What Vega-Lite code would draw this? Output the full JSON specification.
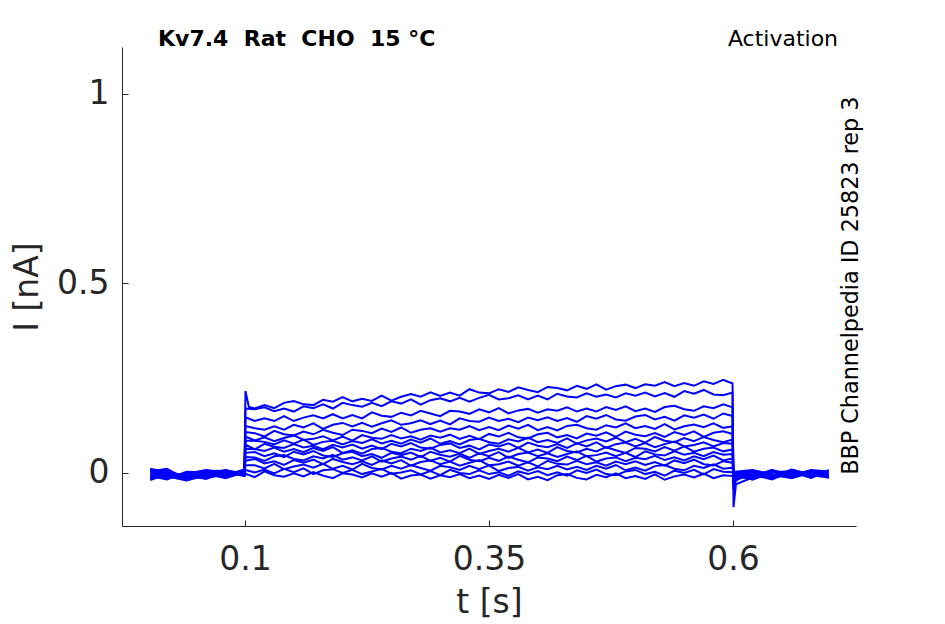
{
  "$schema": "https://vega.github.io/schema/vega-lite/v6.json",
  "width": 734,
  "height": 479,
  "autosize": "none",
  "padding": {"left": 122, "top": 47, "right": 89, "bottom": 98},
  "background": "white",
  "config": {"view": {"stroke": null}, "font": "DejaVu Sans"},
  "layer": [
    {
      "data": {
        "values": [
          {"s":1,"t":0.003,"i":0.008},{"s":1,"t":0.02,"i":-0.006},{"s":1,"t":0.04,"i":-0.015},{"s":1,"t":0.06,"i":0.004},{"s":1,"t":0.08,"i":-0.003},{"s":1,"t":0.0995,"i":0.006},
          {"s":1,"t":0.1005,"i":0.216},{"s":1,"t":0.104,"i":0.174},
          {"s":1,"t":0.11,"i":0.17},{"s":1,"t":0.12,"i":0.179},{"s":1,"t":0.13,"i":0.171},{"s":1,"t":0.14,"i":0.185},{"s":1,"t":0.15,"i":0.19},{"s":1,"t":0.16,"i":0.181},{"s":1,"t":0.17,"i":0.179},{"s":1,"t":0.18,"i":0.193},{"s":1,"t":0.19,"i":0.188},{"s":1,"t":0.2,"i":0.2},{"s":1,"t":0.21,"i":0.189},{"s":1,"t":0.22,"i":0.196},{"s":1,"t":0.23,"i":0.19},{"s":1,"t":0.24,"i":0.204},{"s":1,"t":0.25,"i":0.191},{"s":1,"t":0.26,"i":0.201},{"s":1,"t":0.27,"i":0.208},{"s":1,"t":0.28,"i":0.201},{"s":1,"t":0.29,"i":0.213},{"s":1,"t":0.3,"i":0.203},{"s":1,"t":0.31,"i":0.212},{"s":1,"t":0.32,"i":0.204},{"s":1,"t":0.33,"i":0.221},{"s":1,"t":0.34,"i":0.212},{"s":1,"t":0.35,"i":0.21},{"s":1,"t":0.36,"i":0.221},{"s":1,"t":0.37,"i":0.214},{"s":1,"t":0.38,"i":0.226},{"s":1,"t":0.39,"i":0.219},{"s":1,"t":0.4,"i":0.213},{"s":1,"t":0.41,"i":0.227},{"s":1,"t":0.42,"i":0.224},{"s":1,"t":0.43,"i":0.218},{"s":1,"t":0.44,"i":0.23},{"s":1,"t":0.45,"i":0.222},{"s":1,"t":0.46,"i":0.234},{"s":1,"t":0.47,"i":0.22},{"s":1,"t":0.48,"i":0.229},{"s":1,"t":0.49,"i":0.233},{"s":1,"t":0.5,"i":0.224},{"s":1,"t":0.51,"i":0.234},{"s":1,"t":0.52,"i":0.23},{"s":1,"t":0.53,"i":0.24},{"s":1,"t":0.54,"i":0.229},{"s":1,"t":0.55,"i":0.237},{"s":1,"t":0.56,"i":0.23},{"s":1,"t":0.57,"i":0.242},{"s":1,"t":0.58,"i":0.235},{"s":1,"t":0.59,"i":0.246},{"s":1,"t":0.5995,"i":0.236},
          {"s":1,"t":0.6005,"i":-0.09},{"s":1,"t":0.603,"i":-0.03},{"s":1,"t":0.62,"i":-0.012},{"s":1,"t":0.64,"i":0.004},{"s":1,"t":0.66,"i":-0.008},{"s":1,"t":0.68,"i":0.006},{"s":1,"t":0.698,"i":-0.004},

          {"s":2,"t":0.003,"i":-0.012},{"s":2,"t":0.02,"i":0.005},{"s":2,"t":0.04,"i":-0.009},{"s":2,"t":0.06,"i":-0.004},{"s":2,"t":0.08,"i":0.007},{"s":2,"t":0.0995,"i":-0.002},
          {"s":2,"t":0.1005,"i":0.17},
          {"s":2,"t":0.11,"i":0.168},{"s":2,"t":0.12,"i":0.173},{"s":2,"t":0.13,"i":0.163},{"s":2,"t":0.14,"i":0.17},{"s":2,"t":0.15,"i":0.162},{"s":2,"t":0.16,"i":0.176},{"s":2,"t":0.17,"i":0.171},{"s":2,"t":0.18,"i":0.181},{"s":2,"t":0.19,"i":0.17},{"s":2,"t":0.2,"i":0.185},{"s":2,"t":0.21,"i":0.179},{"s":2,"t":0.22,"i":0.175},{"s":2,"t":0.23,"i":0.185},{"s":2,"t":0.24,"i":0.176},{"s":2,"t":0.25,"i":0.189},{"s":2,"t":0.26,"i":0.183},{"s":2,"t":0.27,"i":0.194},{"s":2,"t":0.28,"i":0.18},{"s":2,"t":0.29,"i":0.192},{"s":2,"t":0.3,"i":0.197},{"s":2,"t":0.31,"i":0.189},{"s":2,"t":0.32,"i":0.198},{"s":2,"t":0.33,"i":0.188},{"s":2,"t":0.34,"i":0.198},{"s":2,"t":0.35,"i":0.206},{"s":2,"t":0.36,"i":0.194},{"s":2,"t":0.37,"i":0.197},{"s":2,"t":0.38,"i":0.205},{"s":2,"t":0.39,"i":0.194},{"s":2,"t":0.4,"i":0.204},{"s":2,"t":0.41,"i":0.194},{"s":2,"t":0.42,"i":0.209},{"s":2,"t":0.43,"i":0.202},{"s":2,"t":0.44,"i":0.199},{"s":2,"t":0.45,"i":0.21},{"s":2,"t":0.46,"i":0.201},{"s":2,"t":0.47,"i":0.207},{"s":2,"t":0.48,"i":0.199},{"s":2,"t":0.49,"i":0.21},{"s":2,"t":0.5,"i":0.204},{"s":2,"t":0.51,"i":0.212},{"s":2,"t":0.52,"i":0.202},{"s":2,"t":0.53,"i":0.211},{"s":2,"t":0.54,"i":0.201},{"s":2,"t":0.55,"i":0.216},{"s":2,"t":0.56,"i":0.209},{"s":2,"t":0.57,"i":0.219},{"s":2,"t":0.58,"i":0.207},{"s":2,"t":0.59,"i":0.205},{"s":2,"t":0.5995,"i":0.212},
          {"s":2,"t":0.6005,"i":-0.045},{"s":2,"t":0.603,"i":-0.02},{"s":2,"t":0.62,"i":0.002},{"s":2,"t":0.64,"i":-0.011},{"s":2,"t":0.66,"i":0.008},{"s":2,"t":0.68,"i":-0.006},{"s":2,"t":0.698,"i":0.003},

          {"s":3,"t":0.003,"i":0.002},{"s":3,"t":0.02,"i":-0.014},{"s":3,"t":0.04,"i":0.001},{"s":3,"t":0.06,"i":-0.011},{"s":3,"t":0.08,"i":-0.006},{"s":3,"t":0.0995,"i":0.009},
          {"s":3,"t":0.1005,"i":0.147},
          {"s":3,"t":0.11,"i":0.137},{"s":3,"t":0.12,"i":0.144},{"s":3,"t":0.13,"i":0.137},{"s":3,"t":0.14,"i":0.15},{"s":3,"t":0.15,"i":0.137},{"s":3,"t":0.16,"i":0.146},{"s":3,"t":0.17,"i":0.152},{"s":3,"t":0.18,"i":0.144},{"s":3,"t":0.19,"i":0.155},{"s":3,"t":0.2,"i":0.144},{"s":3,"t":0.21,"i":0.153},{"s":3,"t":0.22,"i":0.144},{"s":3,"t":0.23,"i":0.16},{"s":3,"t":0.24,"i":0.151},{"s":3,"t":0.25,"i":0.148},{"s":3,"t":0.26,"i":0.159},{"s":3,"t":0.27,"i":0.152},{"s":3,"t":0.28,"i":0.164},{"s":3,"t":0.29,"i":0.157},{"s":3,"t":0.3,"i":0.15},{"s":3,"t":0.31,"i":0.164},{"s":3,"t":0.32,"i":0.162},{"s":3,"t":0.33,"i":0.156},{"s":3,"t":0.34,"i":0.168},{"s":3,"t":0.35,"i":0.16},{"s":3,"t":0.36,"i":0.171},{"s":3,"t":0.37,"i":0.157},{"s":3,"t":0.38,"i":0.165},{"s":3,"t":0.39,"i":0.169},{"s":3,"t":0.4,"i":0.159},{"s":3,"t":0.41,"i":0.168},{"s":3,"t":0.42,"i":0.164},{"s":3,"t":0.43,"i":0.173},{"s":3,"t":0.44,"i":0.162},{"s":3,"t":0.45,"i":0.17},{"s":3,"t":0.46,"i":0.162},{"s":3,"t":0.47,"i":0.174},{"s":3,"t":0.48,"i":0.166},{"s":3,"t":0.49,"i":0.176},{"s":3,"t":0.5,"i":0.163},{"s":3,"t":0.51,"i":0.17},{"s":3,"t":0.52,"i":0.161},{"s":3,"t":0.53,"i":0.174},{"s":3,"t":0.54,"i":0.177},{"s":3,"t":0.55,"i":0.168},{"s":3,"t":0.56,"i":0.164},{"s":3,"t":0.57,"i":0.176},{"s":3,"t":0.58,"i":0.171},{"s":3,"t":0.59,"i":0.181},{"s":3,"t":0.5995,"i":0.173},
          {"s":3,"t":0.6005,"i":-0.035},{"s":3,"t":0.603,"i":-0.015},{"s":3,"t":0.62,"i":-0.006},{"s":3,"t":0.64,"i":0.006},{"s":3,"t":0.66,"i":-0.012},{"s":3,"t":0.68,"i":0.002},{"s":3,"t":0.698,"i":-0.009},

          {"s":4,"t":0.003,"i":-0.016},{"s":4,"t":0.02,"i":0.009},{"s":4,"t":0.04,"i":-0.018},{"s":4,"t":0.06,"i":0.006},{"s":4,"t":0.08,"i":-0.009},{"s":4,"t":0.0995,"i":0.003},
          {"s":4,"t":0.1005,"i":0.124},
          {"s":4,"t":0.11,"i":0.118},{"s":4,"t":0.12,"i":0.114},{"s":4,"t":0.13,"i":0.123},{"s":4,"t":0.14,"i":0.114},{"s":4,"t":0.15,"i":0.127},{"s":4,"t":0.16,"i":0.12},{"s":4,"t":0.17,"i":0.131},{"s":4,"t":0.18,"i":0.116},{"s":4,"t":0.19,"i":0.127},{"s":4,"t":0.2,"i":0.132},{"s":4,"t":0.21,"i":0.123},{"s":4,"t":0.22,"i":0.132},{"s":4,"t":0.23,"i":0.122},{"s":4,"t":0.24,"i":0.131},{"s":4,"t":0.25,"i":0.139},{"s":4,"t":0.26,"i":0.127},{"s":4,"t":0.27,"i":0.131},{"s":4,"t":0.28,"i":0.139},{"s":4,"t":0.29,"i":0.129},{"s":4,"t":0.3,"i":0.138},{"s":4,"t":0.31,"i":0.128},{"s":4,"t":0.32,"i":0.144},{"s":4,"t":0.33,"i":0.137},{"s":4,"t":0.34,"i":0.135},{"s":4,"t":0.35,"i":0.146},{"s":4,"t":0.36,"i":0.137},{"s":4,"t":0.37,"i":0.143},{"s":4,"t":0.38,"i":0.134},{"s":4,"t":0.39,"i":0.146},{"s":4,"t":0.4,"i":0.139},{"s":4,"t":0.41,"i":0.147},{"s":4,"t":0.42,"i":0.137},{"s":4,"t":0.43,"i":0.145},{"s":4,"t":0.44,"i":0.135},{"s":4,"t":0.45,"i":0.15},{"s":4,"t":0.46,"i":0.143},{"s":4,"t":0.47,"i":0.153},{"s":4,"t":0.48,"i":0.141},{"s":4,"t":0.49,"i":0.138},{"s":4,"t":0.5,"i":0.149},{"s":4,"t":0.51,"i":0.153},{"s":4,"t":0.52,"i":0.141},{"s":4,"t":0.53,"i":0.148},{"s":4,"t":0.54,"i":0.138},{"s":4,"t":0.55,"i":0.152},{"s":4,"t":0.56,"i":0.146},{"s":4,"t":0.57,"i":0.154},{"s":4,"t":0.58,"i":0.143},{"s":4,"t":0.59,"i":0.157},{"s":4,"t":0.5995,"i":0.15},
          {"s":4,"t":0.6005,"i":-0.03},{"s":4,"t":0.603,"i":-0.012},{"s":4,"t":0.62,"i":0.005},{"s":4,"t":0.64,"i":-0.009},{"s":4,"t":0.66,"i":0.003},{"s":4,"t":0.68,"i":-0.013},{"s":4,"t":0.698,"i":0.005},

          {"s":5,"t":0.003,"i":0.006},{"s":5,"t":0.02,"i":-0.002},{"s":5,"t":0.04,"i":-0.011},{"s":5,"t":0.06,"i":-0.013},{"s":5,"t":0.08,"i":0.004},{"s":5,"t":0.0995,"i":-0.005},
          {"s":5,"t":0.1005,"i":0.108},
          {"s":5,"t":0.11,"i":0.105},{"s":5,"t":0.12,"i":0.096},{"s":5,"t":0.13,"i":0.111},{"s":5,"t":0.14,"i":0.102},{"s":5,"t":0.15,"i":0.099},{"s":5,"t":0.16,"i":0.109},{"s":5,"t":0.17,"i":0.102},{"s":5,"t":0.18,"i":0.114},{"s":5,"t":0.19,"i":0.106},{"s":5,"t":0.2,"i":0.1},{"s":5,"t":0.21,"i":0.114},{"s":5,"t":0.22,"i":0.111},{"s":5,"t":0.23,"i":0.105},{"s":5,"t":0.24,"i":0.117},{"s":5,"t":0.25,"i":0.108},{"s":5,"t":0.26,"i":0.12},{"s":5,"t":0.27,"i":0.106},{"s":5,"t":0.28,"i":0.114},{"s":5,"t":0.29,"i":0.118},{"s":5,"t":0.3,"i":0.109},{"s":5,"t":0.31,"i":0.118},{"s":5,"t":0.32,"i":0.114},{"s":5,"t":0.33,"i":0.124},{"s":5,"t":0.34,"i":0.113},{"s":5,"t":0.35,"i":0.121},{"s":5,"t":0.36,"i":0.113},{"s":5,"t":0.37,"i":0.125},{"s":5,"t":0.38,"i":0.117},{"s":5,"t":0.39,"i":0.127},{"s":5,"t":0.4,"i":0.113},{"s":5,"t":0.41,"i":0.121},{"s":5,"t":0.42,"i":0.112},{"s":5,"t":0.43,"i":0.124},{"s":5,"t":0.44,"i":0.127},{"s":5,"t":0.45,"i":0.118},{"s":5,"t":0.46,"i":0.114},{"s":5,"t":0.47,"i":0.126},{"s":5,"t":0.48,"i":0.12},{"s":5,"t":0.49,"i":0.131},{"s":5,"t":0.5,"i":0.118},{"s":5,"t":0.51,"i":0.124},{"s":5,"t":0.52,"i":0.116},{"s":5,"t":0.53,"i":0.129},{"s":5,"t":0.54,"i":0.115},{"s":5,"t":0.55,"i":0.123},{"s":5,"t":0.56,"i":0.128},{"s":5,"t":0.57,"i":0.121},{"s":5,"t":0.58,"i":0.131},{"s":5,"t":0.59,"i":0.119},{"s":5,"t":0.5995,"i":0.123},
          {"s":5,"t":0.6005,"i":-0.028},{"s":5,"t":0.603,"i":-0.01},{"s":5,"t":0.62,"i":-0.014},{"s":5,"t":0.64,"i":0.002},{"s":5,"t":0.66,"i":-0.005},{"s":5,"t":0.68,"i":0.007},{"s":5,"t":0.698,"i":-0.011},

          {"s":6,"t":0.003,"i":-0.008},{"s":6,"t":0.02,"i":-0.017},{"s":6,"t":0.04,"i":0.003},{"s":6,"t":0.06,"i":0.001},{"s":6,"t":0.08,"i":-0.012},{"s":6,"t":0.0995,"i":0.008},
          {"s":6,"t":0.1005,"i":0.096},
          {"s":6,"t":0.11,"i":0.086},{"s":6,"t":0.12,"i":0.094},{"s":6,"t":0.13,"i":0.084},{"s":6,"t":0.14,"i":0.092},{"s":6,"t":0.15,"i":0.099},{"s":6,"t":0.16,"i":0.087},{"s":6,"t":0.17,"i":0.09},{"s":6,"t":0.18,"i":0.097},{"s":6,"t":0.19,"i":0.086},{"s":6,"t":0.2,"i":0.096},{"s":6,"t":0.21,"i":0.085},{"s":6,"t":0.22,"i":0.1},{"s":6,"t":0.23,"i":0.093},{"s":6,"t":0.24,"i":0.09},{"s":6,"t":0.25,"i":0.1},{"s":6,"t":0.26,"i":0.091},{"s":6,"t":0.27,"i":0.097},{"s":6,"t":0.28,"i":0.088},{"s":6,"t":0.29,"i":0.099},{"s":6,"t":0.3,"i":0.093},{"s":6,"t":0.31,"i":0.101},{"s":6,"t":0.32,"i":0.09},{"s":6,"t":0.33,"i":0.098},{"s":6,"t":0.34,"i":0.089},{"s":6,"t":0.35,"i":0.103},{"s":6,"t":0.36,"i":0.096},{"s":6,"t":0.37,"i":0.106},{"s":6,"t":0.38,"i":0.094},{"s":6,"t":0.39,"i":0.091},{"s":6,"t":0.4,"i":0.102},{"s":6,"t":0.41,"i":0.106},{"s":6,"t":0.42,"i":0.094},{"s":6,"t":0.43,"i":0.1},{"s":6,"t":0.44,"i":0.091},{"s":6,"t":0.45,"i":0.104},{"s":6,"t":0.46,"i":0.098},{"s":6,"t":0.47,"i":0.107},{"s":6,"t":0.48,"i":0.095},{"s":6,"t":0.49,"i":0.109},{"s":6,"t":0.5,"i":0.101},{"s":6,"t":0.51,"i":0.097},{"s":6,"t":0.52,"i":0.105},{"s":6,"t":0.53,"i":0.095},{"s":6,"t":0.54,"i":0.108},{"s":6,"t":0.55,"i":0.1},{"s":6,"t":0.56,"i":0.11},{"s":6,"t":0.57,"i":0.095},{"s":6,"t":0.58,"i":0.106},{"s":6,"t":0.59,"i":0.11},{"s":6,"t":0.5995,"i":0.103},
          {"s":6,"t":0.6005,"i":-0.025},{"s":6,"t":0.603,"i":-0.008},{"s":6,"t":0.62,"i":0.003},{"s":6,"t":0.64,"i":-0.015},{"s":6,"t":0.66,"i":0.006},{"s":6,"t":0.68,"i":-0.008},{"s":6,"t":0.698,"i":0.001},

          {"s":7,"t":0.003,"i":0.01},{"s":7,"t":0.02,"i":-0.009},{"s":7,"t":0.04,"i":-0.02},{"s":7,"t":0.06,"i":-0.006},{"s":7,"t":0.08,"i":0.008},{"s":7,"t":0.0995,"i":-0.004},
          {"s":7,"t":0.1005,"i":0.085},
          {"s":7,"t":0.11,"i":0.085},{"s":7,"t":0.12,"i":0.082},{"s":7,"t":0.13,"i":0.075},{"s":7,"t":0.14,"i":0.086},{"s":7,"t":0.15,"i":0.077},{"s":7,"t":0.16,"i":0.088},{"s":7,"t":0.17,"i":0.074},{"s":7,"t":0.18,"i":0.082},{"s":7,"t":0.19,"i":0.085},{"s":7,"t":0.2,"i":0.075},{"s":7,"t":0.21,"i":0.084},{"s":7,"t":0.22,"i":0.079},{"s":7,"t":0.23,"i":0.089},{"s":7,"t":0.24,"i":0.078},{"s":7,"t":0.25,"i":0.085},{"s":7,"t":0.26,"i":0.077},{"s":7,"t":0.27,"i":0.088},{"s":7,"t":0.28,"i":0.08},{"s":7,"t":0.29,"i":0.091},{"s":7,"t":0.3,"i":0.077},{"s":7,"t":0.31,"i":0.084},{"s":7,"t":0.32,"i":0.075},{"s":7,"t":0.33,"i":0.087},{"s":7,"t":0.34,"i":0.09},{"s":7,"t":0.35,"i":0.081},{"s":7,"t":0.36,"i":0.077},{"s":7,"t":0.37,"i":0.089},{"s":7,"t":0.38,"i":0.083},{"s":7,"t":0.39,"i":0.093},{"s":7,"t":0.4,"i":0.081},{"s":7,"t":0.41,"i":0.087},{"s":7,"t":0.42,"i":0.079},{"s":7,"t":0.43,"i":0.091},{"s":7,"t":0.44,"i":0.077},{"s":7,"t":0.45,"i":0.086},{"s":7,"t":0.46,"i":0.091},{"s":7,"t":0.47,"i":0.083},{"s":7,"t":0.48,"i":0.093},{"s":7,"t":0.49,"i":0.081},{"s":7,"t":0.5,"i":0.09},{"s":7,"t":0.51,"i":0.08},{"s":7,"t":0.52,"i":0.095},{"s":7,"t":0.53,"i":0.085},{"s":7,"t":0.54,"i":0.081},{"s":7,"t":0.55,"i":0.092},{"s":7,"t":0.56,"i":0.084},{"s":7,"t":0.57,"i":0.095},{"s":7,"t":0.58,"i":0.087},{"s":7,"t":0.59,"i":0.081},{"s":7,"t":0.5995,"i":0.088},
          {"s":7,"t":0.6005,"i":-0.022},{"s":7,"t":0.603,"i":-0.006},{"s":7,"t":0.62,"i":-0.009},{"s":7,"t":0.64,"i":0.008},{"s":7,"t":0.66,"i":-0.013},{"s":7,"t":0.68,"i":0.004},{"s":7,"t":0.698,"i":-0.006},

          {"s":8,"t":0.003,"i":-0.004},{"s":8,"t":0.02,"i":0.007},{"s":8,"t":0.04,"i":-0.013},{"s":8,"t":0.06,"i":0.007},{"s":8,"t":0.08,"i":-0.002},{"s":8,"t":0.0995,"i":0.005},
          {"s":8,"t":0.1005,"i":0.075},
          {"s":8,"t":0.11,"i":0.062},{"s":8,"t":0.12,"i":0.077},{"s":8,"t":0.13,"i":0.069},{"s":8,"t":0.14,"i":0.066},{"s":8,"t":0.15,"i":0.076},{"s":8,"t":0.16,"i":0.067},{"s":8,"t":0.17,"i":0.072},{"s":8,"t":0.18,"i":0.063},{"s":8,"t":0.19,"i":0.074},{"s":8,"t":0.2,"i":0.067},{"s":8,"t":0.21,"i":0.075},{"s":8,"t":0.22,"i":0.064},{"s":8,"t":0.23,"i":0.072},{"s":8,"t":0.24,"i":0.063},{"s":8,"t":0.25,"i":0.077},{"s":8,"t":0.26,"i":0.07},{"s":8,"t":0.27,"i":0.079},{"s":8,"t":0.28,"i":0.067},{"s":8,"t":0.29,"i":0.064},{"s":8,"t":0.3,"i":0.074},{"s":8,"t":0.31,"i":0.078},{"s":8,"t":0.32,"i":0.066},{"s":8,"t":0.33,"i":0.072},{"s":8,"t":0.34,"i":0.062},{"s":8,"t":0.35,"i":0.075},{"s":8,"t":0.36,"i":0.07},{"s":8,"t":0.37,"i":0.078},{"s":8,"t":0.38,"i":0.066},{"s":8,"t":0.39,"i":0.08},{"s":8,"t":0.4,"i":0.072},{"s":8,"t":0.41,"i":0.068},{"s":8,"t":0.42,"i":0.076},{"s":8,"t":0.43,"i":0.066},{"s":8,"t":0.44,"i":0.078},{"s":8,"t":0.45,"i":0.07},{"s":8,"t":0.46,"i":0.081},{"s":8,"t":0.47,"i":0.066},{"s":8,"t":0.48,"i":0.076},{"s":8,"t":0.49,"i":0.08},{"s":8,"t":0.5,"i":0.07},{"s":8,"t":0.51,"i":0.079},{"s":8,"t":0.52,"i":0.068},{"s":8,"t":0.53,"i":0.076},{"s":8,"t":0.54,"i":0.083},{"s":8,"t":0.55,"i":0.07},{"s":8,"t":0.56,"i":0.074},{"s":8,"t":0.57,"i":0.081},{"s":8,"t":0.58,"i":0.07},{"s":8,"t":0.59,"i":0.079},{"s":8,"t":0.5995,"i":0.077},
          {"s":8,"t":0.6005,"i":-0.02},{"s":8,"t":0.603,"i":-0.004},{"s":8,"t":0.62,"i":0.006},{"s":8,"t":0.64,"i":-0.006},{"s":8,"t":0.66,"i":0.001},{"s":8,"t":0.68,"i":-0.011},{"s":8,"t":0.698,"i":0.007},

          {"s":9,"t":0.003,"i":-0.019},{"s":9,"t":0.02,"i":-0.003},{"s":9,"t":0.04,"i":-0.006},{"s":9,"t":0.06,"i":-0.016},{"s":9,"t":0.08,"i":0.002},{"s":9,"t":0.0995,"i":-0.008},
          {"s":9,"t":0.1005,"i":0.064},
          {"s":9,"t":0.11,"i":0.063},{"s":9,"t":0.12,"i":0.058},{"s":9,"t":0.13,"i":0.067},{"s":9,"t":0.14,"i":0.056},{"s":9,"t":0.15,"i":0.063},{"s":9,"t":0.16,"i":0.055},{"s":9,"t":0.17,"i":0.066},{"s":9,"t":0.18,"i":0.058},{"s":9,"t":0.19,"i":0.068},{"s":9,"t":0.2,"i":0.053},{"s":9,"t":0.21,"i":0.06},{"s":9,"t":0.22,"i":0.051},{"s":9,"t":0.23,"i":0.063},{"s":9,"t":0.24,"i":0.066},{"s":9,"t":0.25,"i":0.056},{"s":9,"t":0.26,"i":0.052},{"s":9,"t":0.27,"i":0.064},{"s":9,"t":0.28,"i":0.058},{"s":9,"t":0.29,"i":0.067},{"s":9,"t":0.3,"i":0.054},{"s":9,"t":0.31,"i":0.06},{"s":9,"t":0.32,"i":0.052},{"s":9,"t":0.33,"i":0.064},{"s":9,"t":0.34,"i":0.05},{"s":9,"t":0.35,"i":0.058},{"s":9,"t":0.36,"i":0.064},{"s":9,"t":0.37,"i":0.056},{"s":9,"t":0.38,"i":0.066},{"s":9,"t":0.39,"i":0.054},{"s":9,"t":0.4,"i":0.062},{"s":9,"t":0.41,"i":0.053},{"s":9,"t":0.42,"i":0.068},{"s":9,"t":0.43,"i":0.058},{"s":9,"t":0.44,"i":0.054},{"s":9,"t":0.45,"i":0.064},{"s":9,"t":0.46,"i":0.057},{"s":9,"t":0.47,"i":0.068},{"s":9,"t":0.48,"i":0.06},{"s":9,"t":0.49,"i":0.053},{"s":9,"t":0.5,"i":0.066},{"s":9,"t":0.51,"i":0.064},{"s":9,"t":0.52,"i":0.057},{"s":9,"t":0.53,"i":0.068},{"s":9,"t":0.54,"i":0.059},{"s":9,"t":0.55,"i":0.07},{"s":9,"t":0.56,"i":0.056},{"s":9,"t":0.57,"i":0.064},{"s":9,"t":0.58,"i":0.067},{"s":9,"t":0.59,"i":0.057},{"s":9,"t":0.5995,"i":0.062},
          {"s":9,"t":0.6005,"i":-0.018},{"s":9,"t":0.603,"i":-0.01},{"s":9,"t":0.62,"i":-0.016},{"s":9,"t":0.64,"i":0.004},{"s":9,"t":0.66,"i":-0.007},{"s":9,"t":0.68,"i":0.005},{"s":9,"t":0.698,"i":-0.013},

          {"s":10,"t":0.003,"i":0.004},{"s":10,"t":0.02,"i":0.011},{"s":10,"t":0.04,"i":-0.017},{"s":10,"t":0.06,"i":-0.001},{"s":10,"t":0.08,"i":-0.014},{"s":10,"t":0.0995,"i":0.002},
          {"s":10,"t":0.1005,"i":0.053},
          {"s":10,"t":0.11,"i":0.055},{"s":10,"t":0.12,"i":0.044},{"s":10,"t":0.13,"i":0.052},{"s":10,"t":0.14,"i":0.042},{"s":10,"t":0.15,"i":0.056},{"s":10,"t":0.16,"i":0.049},{"s":10,"t":0.17,"i":0.058},{"s":10,"t":0.18,"i":0.046},{"s":10,"t":0.19,"i":0.042},{"s":10,"t":0.2,"i":0.052},{"s":10,"t":0.21,"i":0.056},{"s":10,"t":0.22,"i":0.044},{"s":10,"t":0.23,"i":0.05},{"s":10,"t":0.24,"i":0.04},{"s":10,"t":0.25,"i":0.053},{"s":10,"t":0.26,"i":0.047},{"s":10,"t":0.27,"i":0.054},{"s":10,"t":0.28,"i":0.042},{"s":10,"t":0.29,"i":0.056},{"s":10,"t":0.3,"i":0.048},{"s":10,"t":0.31,"i":0.043},{"s":10,"t":0.32,"i":0.051},{"s":10,"t":0.33,"i":0.04},{"s":10,"t":0.34,"i":0.052},{"s":10,"t":0.35,"i":0.044},{"s":10,"t":0.36,"i":0.055},{"s":10,"t":0.37,"i":0.04},{"s":10,"t":0.38,"i":0.05},{"s":10,"t":0.39,"i":0.054},{"s":10,"t":0.4,"i":0.044},{"s":10,"t":0.41,"i":0.052},{"s":10,"t":0.42,"i":0.042},{"s":10,"t":0.43,"i":0.05},{"s":10,"t":0.44,"i":0.057},{"s":10,"t":0.45,"i":0.044},{"s":10,"t":0.46,"i":0.047},{"s":10,"t":0.47,"i":0.054},{"s":10,"t":0.48,"i":0.044},{"s":10,"t":0.49,"i":0.053},{"s":10,"t":0.5,"i":0.042},{"s":10,"t":0.51,"i":0.057},{"s":10,"t":0.52,"i":0.049},{"s":10,"t":0.53,"i":0.046},{"s":10,"t":0.54,"i":0.057},{"s":10,"t":0.55,"i":0.048},{"s":10,"t":0.56,"i":0.053},{"s":10,"t":0.57,"i":0.044},{"s":10,"t":0.58,"i":0.055},{"s":10,"t":0.59,"i":0.048},{"s":10,"t":0.5995,"i":0.05},
          {"s":10,"t":0.6005,"i":-0.015},{"s":10,"t":0.603,"i":-0.002},{"s":10,"t":0.62,"i":0.001},{"s":10,"t":0.64,"i":-0.012},{"s":10,"t":0.66,"i":0.009},{"s":10,"t":0.68,"i":-0.004},{"s":10,"t":0.698,"i":0.002},

          {"s":11,"t":0.003,"i":-0.01},{"s":11,"t":0.02,"i":-0.012},{"s":11,"t":0.04,"i":0.0},{"s":11,"t":0.06,"i":0.005},{"s":11,"t":0.08,"i":0.006},{"s":11,"t":0.0995,"i":-0.006},
          {"s":11,"t":0.1005,"i":0.042},
          {"s":11,"t":0.11,"i":0.041},{"s":11,"t":0.12,"i":0.032},{"s":11,"t":0.13,"i":0.044},{"s":11,"t":0.14,"i":0.047},{"s":11,"t":0.15,"i":0.037},{"s":11,"t":0.16,"i":0.033},{"s":11,"t":0.17,"i":0.044},{"s":11,"t":0.18,"i":0.038},{"s":11,"t":0.19,"i":0.048},{"s":11,"t":0.2,"i":0.035},{"s":11,"t":0.21,"i":0.041},{"s":11,"t":0.22,"i":0.033},{"s":11,"t":0.23,"i":0.044},{"s":11,"t":0.24,"i":0.03},{"s":11,"t":0.25,"i":0.038},{"s":11,"t":0.26,"i":0.043},{"s":11,"t":0.27,"i":0.035},{"s":11,"t":0.28,"i":0.045},{"s":11,"t":0.29,"i":0.032},{"s":11,"t":0.3,"i":0.04},{"s":11,"t":0.31,"i":0.03},{"s":11,"t":0.32,"i":0.045},{"s":11,"t":0.33,"i":0.035},{"s":11,"t":0.34,"i":0.031},{"s":11,"t":0.35,"i":0.04},{"s":11,"t":0.36,"i":0.032},{"s":11,"t":0.37,"i":0.043},{"s":11,"t":0.38,"i":0.035},{"s":11,"t":0.39,"i":0.028},{"s":11,"t":0.4,"i":0.041},{"s":11,"t":0.41,"i":0.038},{"s":11,"t":0.42,"i":0.031},{"s":11,"t":0.43,"i":0.043},{"s":11,"t":0.44,"i":0.034},{"s":11,"t":0.45,"i":0.045},{"s":11,"t":0.46,"i":0.03},{"s":11,"t":0.47,"i":0.038},{"s":11,"t":0.48,"i":0.041},{"s":11,"t":0.49,"i":0.031},{"s":11,"t":0.5,"i":0.04},{"s":11,"t":0.51,"i":0.036},{"s":11,"t":0.52,"i":0.045},{"s":11,"t":0.53,"i":0.034},{"s":11,"t":0.54,"i":0.041},{"s":11,"t":0.55,"i":0.033},{"s":11,"t":0.56,"i":0.044},{"s":11,"t":0.57,"i":0.036},{"s":11,"t":0.58,"i":0.046},{"s":11,"t":0.59,"i":0.033},{"s":11,"t":0.5995,"i":0.038},
          {"s":11,"t":0.6005,"i":-0.012},{"s":11,"t":0.603,"i":-0.007},{"s":11,"t":0.62,"i":-0.011},{"s":11,"t":0.64,"i":0.007},{"s":11,"t":0.66,"i":-0.003},{"s":11,"t":0.68,"i":0.003},{"s":11,"t":0.698,"i":-0.008},

          {"s":12,"t":0.003,"i":0.011},{"s":12,"t":0.02,"i":0.002},{"s":12,"t":0.04,"i":-0.014},{"s":12,"t":0.06,"i":-0.009},{"s":12,"t":0.08,"i":-0.007},{"s":12,"t":0.0995,"i":0.007},
          {"s":12,"t":0.1005,"i":0.032},
          {"s":12,"t":0.11,"i":0.037},{"s":12,"t":0.12,"i":0.025},{"s":12,"t":0.13,"i":0.031},{"s":12,"t":0.14,"i":0.021},{"s":12,"t":0.15,"i":0.034},{"s":12,"t":0.16,"i":0.027},{"s":12,"t":0.17,"i":0.035},{"s":12,"t":0.18,"i":0.023},{"s":12,"t":0.19,"i":0.037},{"s":12,"t":0.2,"i":0.029},{"s":12,"t":0.21,"i":0.023},{"s":12,"t":0.22,"i":0.031},{"s":12,"t":0.23,"i":0.021},{"s":12,"t":0.24,"i":0.033},{"s":12,"t":0.25,"i":0.025},{"s":12,"t":0.26,"i":0.034},{"s":12,"t":0.27,"i":0.019},{"s":12,"t":0.28,"i":0.029},{"s":12,"t":0.29,"i":0.033},{"s":12,"t":0.3,"i":0.023},{"s":12,"t":0.31,"i":0.03},{"s":12,"t":0.32,"i":0.019},{"s":12,"t":0.33,"i":0.027},{"s":12,"t":0.34,"i":0.034},{"s":12,"t":0.35,"i":0.02},{"s":12,"t":0.36,"i":0.023},{"s":12,"t":0.37,"i":0.03},{"s":12,"t":0.38,"i":0.019},{"s":12,"t":0.39,"i":0.028},{"s":12,"t":0.4,"i":0.017},{"s":12,"t":0.41,"i":0.032},{"s":12,"t":0.42,"i":0.024},{"s":12,"t":0.43,"i":0.022},{"s":12,"t":0.44,"i":0.032},{"s":12,"t":0.45,"i":0.023},{"s":12,"t":0.46,"i":0.028},{"s":12,"t":0.47,"i":0.019},{"s":12,"t":0.48,"i":0.03},{"s":12,"t":0.49,"i":0.023},{"s":12,"t":0.5,"i":0.031},{"s":12,"t":0.51,"i":0.021},{"s":12,"t":0.52,"i":0.029},{"s":12,"t":0.53,"i":0.019},{"s":12,"t":0.54,"i":0.033},{"s":12,"t":0.55,"i":0.026},{"s":12,"t":0.56,"i":0.035},{"s":12,"t":0.57,"i":0.023},{"s":12,"t":0.58,"i":0.02},{"s":12,"t":0.59,"i":0.031},{"s":12,"t":0.5995,"i":0.027},
          {"s":12,"t":0.6005,"i":-0.01},{"s":12,"t":0.603,"i":0.0},{"s":12,"t":0.62,"i":0.004},{"s":12,"t":0.64,"i":-0.008},{"s":12,"t":0.66,"i":-0.01},{"s":12,"t":0.68,"i":0.008},{"s":12,"t":0.698,"i":0.004},

          {"s":13,"t":0.003,"i":-0.006},{"s":13,"t":0.02,"i":-0.015},{"s":13,"t":0.04,"i":-0.003},{"s":13,"t":0.06,"i":0.008},{"s":13,"t":0.08,"i":0.001},{"s":13,"t":0.0995,"i":-0.001},
          {"s":13,"t":0.1005,"i":0.02},
          {"s":13,"t":0.11,"i":0.02},{"s":13,"t":0.12,"i":0.012},{"s":13,"t":0.13,"i":0.024},{"s":13,"t":0.14,"i":0.01},{"s":13,"t":0.15,"i":0.017},{"s":13,"t":0.16,"i":0.022},{"s":13,"t":0.17,"i":0.014},{"s":13,"t":0.18,"i":0.024},{"s":13,"t":0.19,"i":0.011},{"s":13,"t":0.2,"i":0.019},{"s":13,"t":0.21,"i":0.009},{"s":13,"t":0.22,"i":0.024},{"s":13,"t":0.23,"i":0.013},{"s":13,"t":0.24,"i":0.009},{"s":13,"t":0.25,"i":0.019},{"s":13,"t":0.26,"i":0.011},{"s":13,"t":0.27,"i":0.021},{"s":13,"t":0.28,"i":0.013},{"s":13,"t":0.29,"i":0.006},{"s":13,"t":0.3,"i":0.019},{"s":13,"t":0.31,"i":0.015},{"s":13,"t":0.32,"i":0.008},{"s":13,"t":0.33,"i":0.019},{"s":13,"t":0.34,"i":0.01},{"s":13,"t":0.35,"i":0.02},{"s":13,"t":0.36,"i":0.005},{"s":13,"t":0.37,"i":0.013},{"s":13,"t":0.38,"i":0.016},{"s":13,"t":0.39,"i":0.006},{"s":13,"t":0.4,"i":0.015},{"s":13,"t":0.41,"i":0.01},{"s":13,"t":0.42,"i":0.019},{"s":13,"t":0.43,"i":0.009},{"s":13,"t":0.44,"i":0.016},{"s":13,"t":0.45,"i":0.008},{"s":13,"t":0.46,"i":0.019},{"s":13,"t":0.47,"i":0.011},{"s":13,"t":0.48,"i":0.021},{"s":13,"t":0.49,"i":0.007},{"s":13,"t":0.5,"i":0.014},{"s":13,"t":0.51,"i":0.006},{"s":13,"t":0.52,"i":0.018},{"s":13,"t":0.53,"i":0.021},{"s":13,"t":0.54,"i":0.011},{"s":13,"t":0.55,"i":0.007},{"s":13,"t":0.56,"i":0.019},{"s":13,"t":0.57,"i":0.013},{"s":13,"t":0.58,"i":0.023},{"s":13,"t":0.59,"i":0.011},{"s":13,"t":0.5995,"i":0.014},
          {"s":13,"t":0.6005,"i":-0.008},{"s":13,"t":0.603,"i":-0.005},{"s":13,"t":0.62,"i":-0.018},{"s":13,"t":0.64,"i":0.001},{"s":13,"t":0.66,"i":0.005},{"s":13,"t":0.68,"i":-0.009},{"s":13,"t":0.698,"i":-0.005},

          {"s":14,"t":0.003,"i":0.003},{"s":14,"t":0.02,"i":0.006},{"s":14,"t":0.04,"i":-0.019},{"s":14,"t":0.06,"i":-0.005},{"s":14,"t":0.08,"i":-0.011},{"s":14,"t":0.0995,"i":0.004},
          {"s":14,"t":0.1005,"i":0.008},
          {"s":14,"t":0.11,"i":0.001},{"s":14,"t":0.12,"i":0.009},{"s":14,"t":0.13,"i":-0.001},{"s":14,"t":0.14,"i":0.011},{"s":14,"t":0.15,"i":0.002},{"s":14,"t":0.16,"i":0.012},{"s":14,"t":0.17,"i":-0.003},{"s":14,"t":0.18,"i":0.007},{"s":14,"t":0.19,"i":0.01},{"s":14,"t":0.2,"i":0.0},{"s":14,"t":0.21,"i":0.008},{"s":14,"t":0.22,"i":-0.003},{"s":14,"t":0.23,"i":0.004},{"s":14,"t":0.24,"i":0.011},{"s":14,"t":0.25,"i":-0.002},{"s":14,"t":0.26,"i":0.001},{"s":14,"t":0.27,"i":0.007},{"s":14,"t":0.28,"i":-0.004},{"s":14,"t":0.29,"i":0.005},{"s":14,"t":0.3,"i":-0.006},{"s":14,"t":0.31,"i":0.008},{"s":14,"t":0.32,"i":0.0},{"s":14,"t":0.33,"i":-0.003},{"s":14,"t":0.34,"i":0.007},{"s":14,"t":0.35,"i":-0.003},{"s":14,"t":0.36,"i":0.002},{"s":14,"t":0.37,"i":-0.007},{"s":14,"t":0.38,"i":0.004},{"s":14,"t":0.39,"i":-0.003},{"s":14,"t":0.4,"i":0.005},{"s":14,"t":0.41,"i":-0.006},{"s":14,"t":0.42,"i":0.002},{"s":14,"t":0.43,"i":-0.007},{"s":14,"t":0.44,"i":0.007},{"s":14,"t":0.45,"i":0.0},{"s":14,"t":0.46,"i":0.009},{"s":14,"t":0.47,"i":-0.003},{"s":14,"t":0.48,"i":-0.006},{"s":14,"t":0.49,"i":0.004},{"s":14,"t":0.5,"i":0.008},{"s":14,"t":0.51,"i":-0.003},{"s":14,"t":0.52,"i":0.003},{"s":14,"t":0.53,"i":-0.007},{"s":14,"t":0.54,"i":0.006},{"s":14,"t":0.55,"i":0.0},{"s":14,"t":0.56,"i":0.008},{"s":14,"t":0.57,"i":-0.004},{"s":14,"t":0.58,"i":0.01},{"s":14,"t":0.59,"i":0.003},{"s":14,"t":0.5995,"i":0.002},
          {"s":14,"t":0.6005,"i":-0.006},{"s":14,"t":0.603,"i":0.003},{"s":14,"t":0.62,"i":0.008},{"s":14,"t":0.64,"i":-0.004},{"s":14,"t":0.66,"i":-0.014},{"s":14,"t":0.68,"i":0.001},{"s":14,"t":0.698,"i":0.006},

          {"s":15,"t":0.003,"i":-0.014},{"s":15,"t":0.02,"i":-0.008},{"s":15,"t":0.04,"i":-0.008},{"s":15,"t":0.06,"i":0.002},{"s":15,"t":0.08,"i":0.005},{"s":15,"t":0.0995,"i":-0.007},
          {"s":15,"t":0.1005,"i":-0.002},
          {"s":15,"t":0.11,"i":-0.011},{"s":15,"t":0.12,"i":0.004},{"s":15,"t":0.13,"i":-0.006},{"s":15,"t":0.14,"i":-0.01},{"s":15,"t":0.15,"i":-0.001},{"s":15,"t":0.16,"i":-0.009},{"s":15,"t":0.17,"i":0.002},{"s":15,"t":0.18,"i":-0.007},{"s":15,"t":0.19,"i":-0.014},{"s":15,"t":0.2,"i":-0.001},{"s":15,"t":0.21,"i":-0.004},{"s":15,"t":0.22,"i":-0.012},{"s":15,"t":0.23,"i":-0.001},{"s":15,"t":0.24,"i":-0.01},{"s":15,"t":0.25,"i":0.0},{"s":15,"t":0.26,"i":-0.015},{"s":15,"t":0.27,"i":-0.007},{"s":15,"t":0.28,"i":-0.004},{"s":15,"t":0.29,"i":-0.015},{"s":15,"t":0.3,"i":-0.006},{"s":15,"t":0.31,"i":-0.011},{"s":15,"t":0.32,"i":-0.003},{"s":15,"t":0.33,"i":-0.014},{"s":15,"t":0.34,"i":-0.007},{"s":15,"t":0.35,"i":-0.016},{"s":15,"t":0.36,"i":-0.005},{"s":15,"t":0.37,"i":-0.013},{"s":15,"t":0.38,"i":-0.003},{"s":15,"t":0.39,"i":-0.017},{"s":15,"t":0.4,"i":-0.01},{"s":15,"t":0.41,"i":-0.019},{"s":15,"t":0.42,"i":-0.006},{"s":15,"t":0.43,"i":-0.003},{"s":15,"t":0.44,"i":-0.013},{"s":15,"t":0.45,"i":-0.017},{"s":15,"t":0.46,"i":-0.005},{"s":15,"t":0.47,"i":-0.011},{"s":15,"t":0.48,"i":-0.001},{"s":15,"t":0.49,"i":-0.014},{"s":15,"t":0.5,"i":-0.008},{"s":15,"t":0.51,"i":-0.016},{"s":15,"t":0.52,"i":-0.004},{"s":15,"t":0.53,"i":-0.018},{"s":15,"t":0.54,"i":-0.009},{"s":15,"t":0.55,"i":-0.004},{"s":15,"t":0.56,"i":-0.012},{"s":15,"t":0.57,"i":-0.002},{"s":15,"t":0.58,"i":-0.014},{"s":15,"t":0.59,"i":-0.006},{"s":15,"t":0.5995,"i":-0.008},
          {"s":15,"t":0.6005,"i":-0.004},{"s":15,"t":0.603,"i":-0.009},{"s":15,"t":0.62,"i":-0.005},{"s":15,"t":0.64,"i":-0.017},{"s":15,"t":0.66,"i":0.004},{"s":15,"t":0.68,"i":-0.006},{"s":15,"t":0.698,"i":-0.012}
        ]
      },
      "mark": {"type": "line", "color": "#0000ff", "strokeWidth": 2, "clip": true},
      "encoding": {
        "x": {
          "field": "t",
          "type": "quantitative",
          "scale": {"domain": [-0.026, 0.726], "nice": false, "zero": false},
          "axis": {
            "title": "t [s]",
            "values": [0.1, 0.35, 0.6],
            "format": "~g",
            "grid": false,
            "tickSize": -6,
            "labelPadding": 23,
            "labelFontSize": 33,
            "labelFont": "DejaVu Sans",
            "labelColor": "#262626",
            "domainColor": "#262626",
            "tickColor": "#262626",
            "titleFontSize": 33,
            "titleFont": "DejaVu Sans",
            "titleFontWeight": "normal",
            "titleColor": "#262626",
            "titlePadding": 10
          }
        },
        "y": {
          "field": "i",
          "type": "quantitative",
          "scale": {"domain": [-0.14, 1.124], "nice": false, "zero": false},
          "axis": {
            "title": "I [nA]",
            "values": [0, 0.5, 1],
            "format": "~g",
            "grid": false,
            "tickSize": -6,
            "labelPadding": 19,
            "labelFontSize": 33,
            "labelFont": "DejaVu Sans",
            "labelColor": "#262626",
            "domainColor": "#262626",
            "tickColor": "#262626",
            "titleFontSize": 33,
            "titleFont": "DejaVu Sans",
            "titleFontWeight": "normal",
            "titleColor": "#262626",
            "titlePadding": 12
          }
        },
        "detail": {"field": "s", "type": "nominal"}
      }
    },
    {
      "data": {"values": [{}]},
      "mark": {"type": "text", "text": "Kv7.4\u00a0 Rat\u00a0 CHO\u00a0 15 °C", "align": "left", "baseline": "alphabetic", "fontSize": 22, "fontWeight": "bold", "font": "DejaVu Sans", "color": "black"},
      "encoding": {
        "x": {"datum": 0.0109, "type": "quantitative"},
        "y": {"datum": 1.127, "type": "quantitative"}
      }
    },
    {
      "data": {"values": [{}]},
      "mark": {"type": "text", "text": "Activation", "align": "right", "baseline": "alphabetic", "fontSize": 22, "font": "DejaVu Sans", "color": "black"},
      "encoding": {
        "x": {"datum": 0.7076, "type": "quantitative"},
        "y": {"datum": 1.127, "type": "quantitative"}
      }
    },
    {
      "data": {"values": [{}]},
      "mark": {"type": "text", "text": "BBP Channelpedia ID 25823 rep 3", "angle": 270, "align": "left", "baseline": "middle", "fontSize": 22.3, "font": "DejaVu Sans", "color": "black"},
      "encoding": {
        "x": {"datum": 0.721, "type": "quantitative"},
        "y": {"datum": -0.005, "type": "quantitative"}
      }
    }
  ]
}
